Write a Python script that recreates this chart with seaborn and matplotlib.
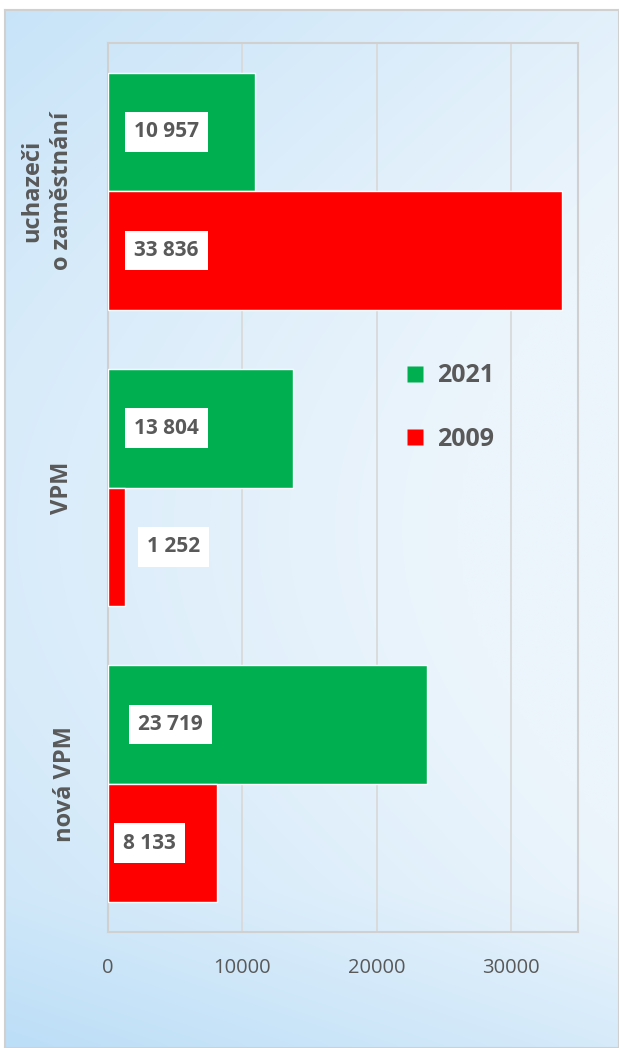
import numpy as np
import pandas as pd
import matplotlib
matplotlib.use("Agg")
import matplotlib.pyplot as plt
from matplotlib.lines import Line2D
import matplotlib.transforms as mtransforms
import seaborn as sns

categories = ["uchazeči\no zaměstnání", "VPM", "nová VPM"]
years = ["2021", "2009"]
values_2021 = [10957, 13804, 23719]
values_2009 = [33836, 1252, 8133]
label_text_2021 = ["10 957", "13 804", "23 719"]
label_text_2009 = ["33 836", "1 252", "8 133"]
xticks = [0, 10000, 20000, 30000]

colors = {"2021": "#00B050", "2009": "#FF0000"}
text_gray = "#595959"

df = pd.DataFrame({
    "kategorie": categories * 2,
    "rok": ["2021"] * 3 + ["2009"] * 3,
    "hodnota": values_2021 + values_2009,
})

sns.set_style("white")
plt.rcParams["font.family"] = ["Open Sans", "DejaVu Sans"]

fig = plt.figure(figsize=(6.19, 10.48), dpi=100)

# background gradient panel
bg = fig.add_axes([5 / 619, 0, 1 - 5 / 619, 1 - 10 / 1048], zorder=0)
h, w = 200, 120
yy, xx = np.mgrid[0:1:h * 1j, 0:1:w * 1j]
c_blue = np.array([188, 222, 247]) / 255
c_light = np.array([236, 245, 252]) / 255
t = np.clip(0.25 + 0.55 * xx + 0.35 * np.sin(np.pi * yy) - 0.25 * (yy > 0.85) * (yy - 0.85) / 0.15, 0, 1)
img = c_blue[None, None, :] * (1 - t[..., None]) + c_light[None, None, :] * t[..., None]
bg.imshow(img, aspect="auto", extent=[0, 1, 0, 1], interpolation="bicubic")
bg.set_xticks([])
bg.set_yticks([])
for s in bg.spines.values():
    s.set_color("#d0d0d0")
    s.set_linewidth(1.5)

ax = fig.add_axes([108 / 619, 1 - 932 / 1048, 470 / 619, 889 / 1048], zorder=1)
ax.patch.set_alpha(0)

sns.barplot(data=df, y="kategorie", x="hodnota", hue="rok", order=categories,
            hue_order=years, palette=colors, orient="h", width=0.8,
            saturation=1, ax=ax, legend=False, zorder=3)

ax.set_xlim(0, 35000)
ax.set_xticks(xticks)
ax.set_xticklabels([str(v) for v in xticks], fontsize=14.5, color=text_gray)
ax.tick_params(axis="x", length=0, pad=19)
ax.set_yticks(range(len(categories)))
ax.set_yticklabels([""] * len(categories))
ax.tick_params(axis="y", length=0)
trans = mtransforms.blended_transform_factory(ax.transAxes, ax.transData)
cat_x = [-0.13, -0.098, -0.092]
for i, c in enumerate(categories):
    ax.text(cat_x[i], i, c, rotation=90, ha="center", va="center", transform=trans,
            fontsize=17, fontweight="bold", color=text_gray, multialignment="center",
            linespacing=1.3)
ax.set_xlabel("")
ax.set_ylabel("")
ax.grid(axis="x", color="#d9d9d9", linewidth=1.3, zorder=0)
ax.set_axisbelow(True)
for s in ax.spines.values():
    s.set_visible(True)
    s.set_color("#d0d0d0")
    s.set_linewidth(1.5)

# data labels
label_x_2021 = [4350, 4350, 4650]
label_x_2009 = [4350, 4880, 3080]
box = dict(boxstyle="square,pad=0.45", facecolor="white", edgecolor="none")
for i in range(3):
    ax.text(label_x_2021[i], i - 0.2, label_text_2021[i], ha="center", va="center",
            fontsize=15, fontweight="bold", color=text_gray, bbox=box, zorder=5)
    ax.text(label_x_2009[i], i + 0.2, label_text_2009[i], ha="center", va="center",
            fontsize=15, fontweight="bold", color=text_gray, bbox=box, zorder=5)

handles = [Line2D([0], [0], marker="s", linestyle="none", markersize=11.5,
                  markerfacecolor=colors[y], markeredgecolor="none") for y in years]
leg = ax.legend(handles, years, loc="upper left", bbox_to_anchor=(0.585, 0.665),
                frameon=False, labelspacing=1.55, handlelength=0.8, handletextpad=0.45,
                prop={"size": 18, "weight": "bold"})
for t_ in leg.get_texts():
    t_.set_color(text_gray)

fig.savefig("out.png", dpi=100)
